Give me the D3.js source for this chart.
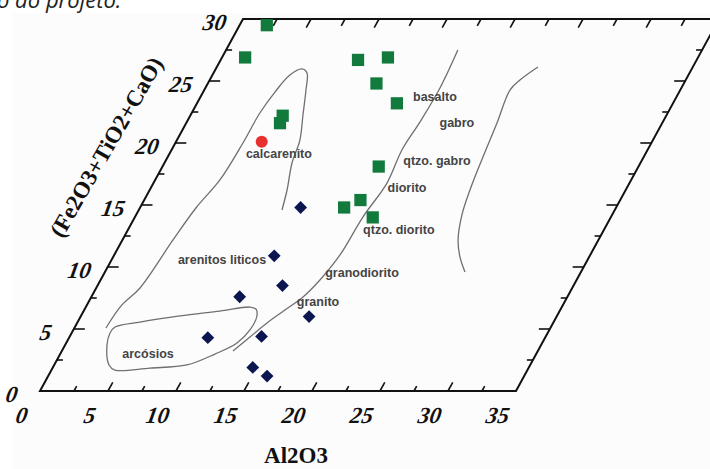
<!DOCTYPE html>
<html>
<head>
<meta charset="utf-8">
<script src="https://cdn.jsdelivr.net/npm/d3@7"></script>
<style>
  body { margin: 0; background: #fff; }
  svg { display: block; }
</style>
</head>
<body>
<div id="container"></div>
<script>
// tick labels
var xTickLabels = [0, 5, 10, 15, 20, 25, 30, 35];
var yTickLabels = [0, 5, 10, 15, 20, 25, 30];

// amostras (Al2O3, Fe2O3+TiO2+CaO)
var greenX = [2.0, 1.7, 10.1, 12.2, 12.4, 14.7, 6.8, 6.9, 15.9, 15.9, 15.0, 17.5];
var greenY = [29.5, 26.9, 26.7, 26.9, 24.8, 23.2, 22.2, 21.6, 18.1, 15.4, 14.8, 14.0];
var redX = [6.3];
var redY = [20.1];
var blueX = [11.8, 11.8, 13.6, 10.9, 16.8, 10.2, 14.1, 14.7, 16.1];
var blueY = [14.8, 10.9, 8.5, 7.6, 6.0, 4.3, 4.4, 1.9, 1.2];

// campos
var fieldNames = ["calcarenito", "arenitos liticos", "arcósios", "granito", "granodiorito",
                  "qtzo. diorito", "diorito", "qtzo. gabro", "gabro", "basalto"];
var fieldX = [8.06, 8.13, 6.46, 16.87, 18.94, 19.93, 18.84, 19.96, 19.90, 17.24];
var fieldY = [19.11, 10.56, 2.98, 7.18, 9.52, 12.98, 16.37, 18.55, 21.61, 23.71];

// limites dos campos
var tongue = [[2.32,5.08],[2.57,6.94],[3.22,8.31],[3.72,12.18],[4.12,14.76],[4.76,17.02],
              [4.97,20.0],[5.01,22.42],[5.28,24.11],[5.70,25.48],[6.34,25.97],[6.87,25.65],
              [7.48,24.27],[8.26,22.26],[9.04,20.24],[9.38,18.39],[10.10,16.21],[10.53,14.60]];
var arcosios = [[2.95,5.16],[4.58,5.56],[7.28,6.05],[10.02,6.45],[12.07,6.77],[12.59,6.61],
                [12.94,6.05],[12.99,4.92],[12.56,3.87],[11.38,2.98],[9.76,2.10],[7.16,1.85],
                [4.67,1.69],[4.03,2.10],[3.08,3.71],[2.82,4.68]];
var granLine = [[12.58,3.23],[13.27,4.35],[13.96,5.48],[14.76,6.53],[15.57,7.58],[16.13,8.95],
                [16.60,10.97],[16.76,14.03],[17.17,16.77],[16.94,19.44],[17.14,21.69],
                [17.25,24.44],[17.04,27.50]];
var gabroLine = [[23.61,26.13],[22.81,25.08],[22.48,24.27],[22.85,21.61],[23.18,18.87],
                 [23.55,16.21],[23.96,14.19],[24.68,12.18],[25.50,10.81],[26.47,9.60]];

var W = 710, H = 469;
var svg = d3.select("div#container").append("svg").attr("width", W).attr("height", H);

var xScale = d3.scaleLinear().domain([0, 35]).range([0, 476]);
var yScale = d3.scaleLinear().domain([0, 30]).range([0, 372]);
var ox = 40, oy = 391, slant = 203 / 372;

// eixo inclinado: y puxa o ponto para a direita
function P(a, b) { return [ox + xScale(a) + yScale(b) * slant, oy - yScale(b)]; }

svg.append("rect").attr("x", 12).attr("y", 13).attr("width", W).attr("height", H).attr("fill", "#fcfcfc");

svg.append("text").attr("x", -3).attr("y", 8)
   .style("font-family", "Open Sans").style("font-style", "italic").style("font-size", "22px")
   .attr("fill", "#222").text("o do projeto.");

var g = svg.append("g");

// moldura
var frame = [P(0,0), P(35,0), P(35,30), P(0,30)];
g.append("path").attr("d", "M" + frame.join("L") + "Z")
 .attr("fill", "none").attr("stroke", "#111").attr("stroke-width", 2);

// ticks
var tk = g.append("g").attr("stroke", "#111").attr("stroke-width", 1.6);
d3.range(2.5, 35, 2.5).forEach(function(v) {
  var major = v % 5 === 0;
  var a = P(v, 0), b = P(v, major ? 0.7 : 0.4);
  tk.append("line").attr("x1", a[0]).attr("y1", a[1]).attr("x2", b[0]).attr("y2", b[1]);
  a = P(v, 30); b = P(v, major ? 29.3 : 29.45);
  tk.append("line").attr("x1", a[0]).attr("y1", a[1]).attr("x2", b[0]).attr("y2", b[1]);
});
d3.range(2.5, 30, 2.5).forEach(function(v) {
  var len = v % 5 === 0 ? 11 : 6;
  var a = P(0, v);
  tk.append("line").attr("x1", a[0]).attr("y1", a[1]).attr("x2", a[0] + len).attr("y2", a[1]);
  a = P(35, v);
  tk.append("line").attr("x1", a[0]).attr("y1", a[1]).attr("x2", a[0] - len).attr("y2", a[1]);
});

function tickLabel(pos, t) {
  g.append("text")
   .attr("transform", "translate(" + pos[0] + "," + pos[1] + ") skewX(-10)")
   .attr("text-anchor", "middle").attr("dy", "0.35em")
   .style("font-family", "Liberation Serif").style("font-weight", "bold")
   .style("font-style", "italic").style("font-size", "23px")
   .attr("fill", "#111").text(t);
}
xTickLabels.forEach(function(v) { var p = P(v, 0); tickLabel([p[0] - 18, p[1] + 24], v); });
yTickLabels.forEach(function(v) { var p = P(0, v); tickLabel([p[0] - 28, p[1] + 3], v); });

// titulos
g.append("text").attr("x", 296).attr("y", 463).attr("text-anchor", "middle")
 .style("font-family", "Liberation Serif").style("font-weight", "bold").style("font-size", "23px")
 .attr("fill", "#111").text("Al2O3");
g.append("text").attr("transform", "translate(106,147) rotate(-60)")
 .attr("text-anchor", "middle").attr("dy", "0.35em")
 .style("font-family", "Liberation Serif").style("font-weight", "bold").style("font-size", "23px")
 .attr("fill", "#111").text("(Fe2O3+TiO2+CaO)");

// limites
var lineGen = d3.line()
  .x(function(d) { return P(d[0], d[1])[0]; })
  .y(function(d) { return P(d[0], d[1])[1]; })
  .curve(d3.curveCatmullRom);
var loopGen = d3.line()
  .x(function(d) { return P(d[0], d[1])[0]; })
  .y(function(d) { return P(d[0], d[1])[1]; })
  .curve(d3.curveCatmullRomClosed);

[tongue, granLine, gabroLine].forEach(function(c) {
  g.append("path").attr("d", lineGen(c)).attr("fill", "none")
   .attr("stroke", "#6f6f6f").attr("stroke-width", 1.3);
});
g.append("path").attr("d", loopGen(arcosios)).attr("fill", "none")
 .attr("stroke", "#6f6f6f").attr("stroke-width", 1.3);

// nomes dos campos
fieldNames.forEach(function(n, i) {
  var p = P(fieldX[i], fieldY[i]);
  g.append("text").attr("x", p[0]).attr("y", p[1]).attr("dy", "0.35em")
   .attr("text-anchor", "middle")
   .style("font-family", "Liberation Sans").style("font-weight", "bold").style("font-size", "12.5px")
   .attr("fill", "#444").text(n);
});

// pontos
var sq = d3.symbol().type(d3.symbolSquare).size(150);
greenX.forEach(function(v, i) {
  var p = P(v, greenY[i]);
  g.append("path").attr("d", sq).attr("transform", "translate(" + p + ")").attr("fill", "#127a3c");
});
var dm = d3.symbol().type(d3.symbolSquare).size(82);
blueX.forEach(function(v, i) {
  var p = P(v, blueY[i]);
  g.append("path").attr("d", dm).attr("transform", "translate(" + p + ") rotate(45)").attr("fill", "#0b1550");
});
redX.forEach(function(v, i) {
  var p = P(v, redY[i]);
  g.append("circle").attr("cx", p[0]).attr("cy", p[1]).attr("r", 6).attr("fill", "#e8312f");
});
</script>
</body>
</html>
